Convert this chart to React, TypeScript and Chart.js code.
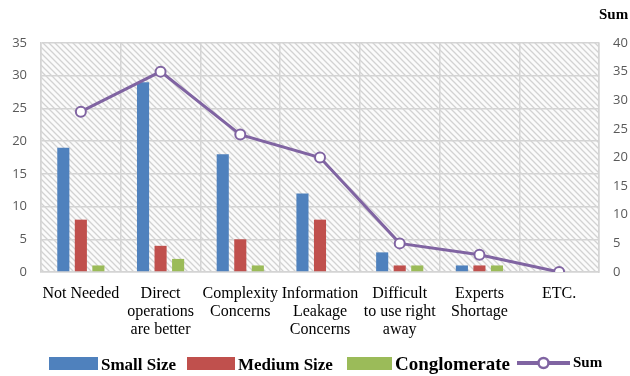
import React, { useEffect, useRef } from "react";
import { Chart, registerables } from "chart.js";

Chart.register(...registerables);

const categories: string[][] = [
  ["Not Needed"],
  ["Direct", "operations", "are better"],
  ["Complexity", "Concerns"],
  ["Information", "Leakage", "Concerns"],
  ["Difficult", "to use right", "away"],
  ["Experts", "Shortage"],
  ["ETC."],
];
const smallSize = [19, 29, 18, 12, 3, 1, 0];
const mediumSize = [8, 4, 5, 8, 1, 1, 0];
const conglomerate = [1, 2, 1, 0, 1, 1, 0];
const sumValues = [28, 35, 24, 20, 5, 3, 0];
const seriesNames = ["Small Size", "Medium Size", "Conglomerate", "Sum"];
const leftMax = 35;
const rightMax = 40;
const tickStep = 5;
const rightTitle = "Sum";

const BLUE = "#4F81BD";
const RED = "#C0504D";
const GREEN = "#9BBB59";
const PURPLE = "#8064A2";
const GRID = "#d4d4d4";
const TICK = "#595959";

function makePattern(): CanvasPattern | string {
  const c = document.createElement("canvas");
  c.width = 6;
  c.height = 6;
  const g = c.getContext("2d");
  if (!g) return "#eeeeee";
  g.fillStyle = "#fbfbfb";
  g.fillRect(0, 0, 6, 6);
  g.strokeStyle = "#d2d2d2";
  g.lineWidth = 1.3;
  g.beginPath();
  g.moveTo(-1, -1);
  g.lineTo(7, 7);
  g.moveTo(-4, 2);
  g.lineTo(4, 10);
  g.moveTo(2, -4);
  g.lineTo(10, 4);
  g.stroke();
  const p = g.createPattern(c, "repeat");
  return p || "#eeeeee";
}

export default function App() {
  const ref = useRef<HTMLCanvasElement | null>(null);

  useEffect(() => {
    const canvas = ref.current;
    if (!canvas) return;
    document.body.style.margin = "0";
    const pattern = makePattern();

    const hatchPlugin = {
      id: "hatch",
      beforeDraw(chart: any) {
        const { ctx, chartArea } = chart;
        ctx.save();
        ctx.fillStyle = pattern;
        ctx.fillRect(chartArea.left, chartArea.top, chartArea.right - chartArea.left, chartArea.bottom - chartArea.top);
        ctx.restore();
      },
    };

    const legendPlugin = {
      id: "customLegend",
      afterDraw(chart: any) {
        const { ctx, chartArea } = chart;
        const ds = chart.data.datasets;
        ctx.save();
        const y = 364;
        const items = [
          { x: 49, w: 49, font: "bold 17px 'Liberation Serif', serif", dy: 0 },
          { x: 187, w: 48, font: "bold 17px 'Liberation Serif', serif", dy: 0 },
          { x: 347, w: 45, font: "bold 19px 'Liberation Serif', serif", dy: 0 },
          { x: 517, w: 53, font: "bold 15px 'Liberation Serif', serif", dy: -3 },
        ];
        items.forEach((it, i) => {
          const d = ds[i];
          if (d.type === "line") {
            ctx.strokeStyle = d.borderColor;
            ctx.lineWidth = 4;
            ctx.beginPath();
            ctx.moveTo(it.x, y - 1);
            ctx.lineTo(it.x + it.w, y - 1);
            ctx.stroke();
            ctx.beginPath();
            ctx.arc(it.x + it.w / 2, y - 1, 5, 0, Math.PI * 2);
            ctx.fillStyle = "#fff";
            ctx.fill();
            ctx.lineWidth = 2.5;
            ctx.stroke();
          } else {
            ctx.fillStyle = d.backgroundColor;
            ctx.fillRect(it.x, y - 7, it.w, 13);
          }
          ctx.fillStyle = "#000";
          ctx.font = it.font;
          ctx.textBaseline = "alphabetic";
          ctx.textAlign = "left";
          ctx.fillText(d.label, it.x + it.w + 3, y + 6 + it.dy);
        });
        ctx.font = "bold 15px 'Liberation Serif', serif";
        ctx.textAlign = "left";
        ctx.fillText(rightTitle, chartArea.right, 19);
        ctx.restore();
      },
    };

    const barCommon = { yAxisID: "y", categoryPercentage: 0.66, barPercentage: 0.69, order: 1 };

    const chart = new Chart(canvas, {
      type: "bar",
      data: {
        labels: categories,
        datasets: [
          { ...barCommon, label: seriesNames[0], data: smallSize, backgroundColor: BLUE },
          { ...barCommon, label: seriesNames[1], data: mediumSize, backgroundColor: RED },
          { ...barCommon, label: seriesNames[2], data: conglomerate, backgroundColor: GREEN },
          {
            type: "line",
            label: seriesNames[3],
            data: sumValues,
            yAxisID: "y1",
            borderColor: PURPLE,
            backgroundColor: "#ffffff",
            borderWidth: 3,
            pointRadius: 5,
            pointBorderWidth: 2,
            pointBackgroundColor: "#ffffff",
            pointBorderColor: PURPLE,
            order: 0,
          } as any,
        ],
      },
      options: {
        responsive: false,
        animation: false,
        layout: { padding: { top: 43, left: 0, right: 0, bottom: 0 } },
        plugins: {
          legend: { display: false },
          tooltip: { enabled: false },
        },
        scales: {
          x: {
            grid: { color: GRID, lineWidth: 1.5, offset: true, drawTicks: false },
            border: { color: GRID, width: 1.5 },
            ticks: {
              color: "#000",
              font: { family: "'Liberation Serif', serif", size: 16, lineHeight: 1.125 },
              padding: 13,
              maxRotation: 0,
              autoSkip: false,
            },
            afterFit: (s: any) => {
              s.height = 104;
            },
          },
          y: {
            position: "left",
            min: 0,
            max: leftMax,
            grid: { color: GRID, lineWidth: 1.5, drawTicks: false },
            border: { color: GRID, width: 1.5 },
            ticks: {
              stepSize: tickStep,
              color: TICK,
              font: { family: "'Open Sans', sans-serif", size: 13 },
              padding: 14,
            },
            afterFit: (s: any) => {
              s.width = 41;
            },
          },
          y1: {
            position: "right",
            min: 0,
            max: rightMax,
            grid: { drawOnChartArea: false, drawTicks: false },
            border: { color: GRID, width: 1.5 },
            ticks: {
              stepSize: tickStep,
              color: TICK,
              font: { family: "'Open Sans', sans-serif", size: 13 },
              padding: 14,
            },
            afterFit: (s: any) => {
              s.width = 31;
            },
          },
        },
      },
      plugins: [hatchPlugin, legendPlugin],
    } as any);

    return () => chart.destroy();
  }, []);

  return (
    <div style={{ position: "absolute", left: 0, top: 0, width: 630, height: 376, background: "#fff" }}>
      <canvas ref={ref} width={630} height={376} style={{ width: 630, height: 376, display: "block" }} />
    </div>
  );
}
